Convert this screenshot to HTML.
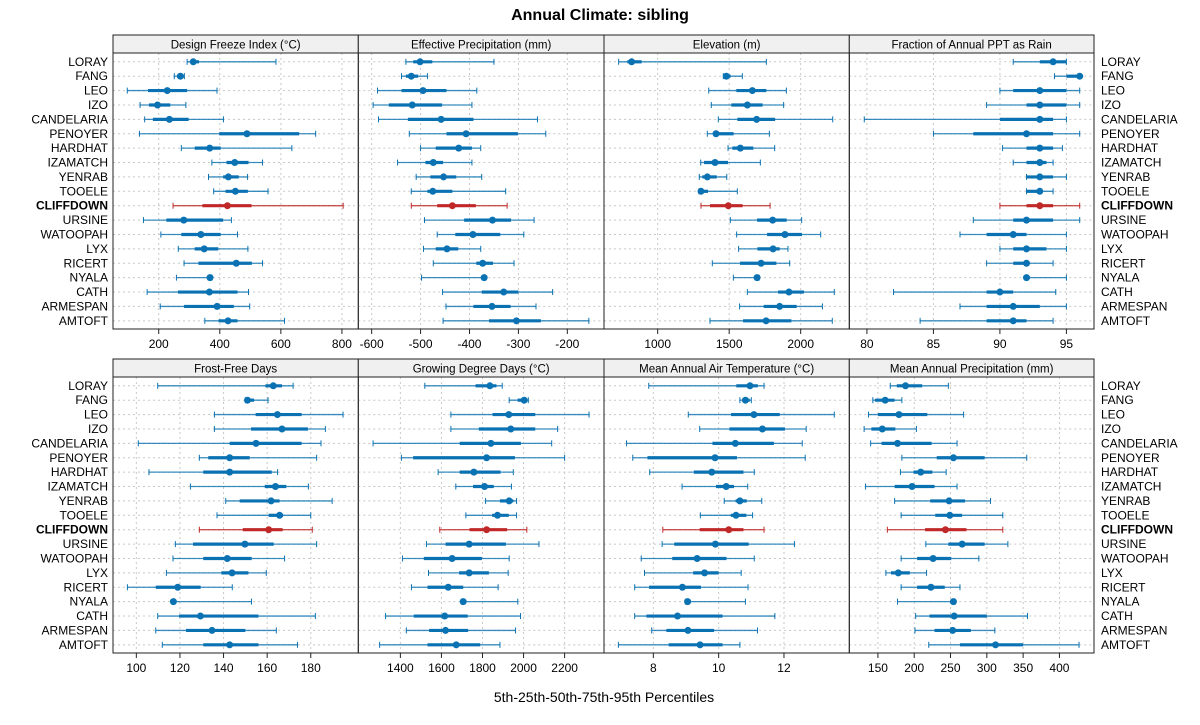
<!DOCTYPE html>
<html><head><meta charset="utf-8"><style>
body{margin:0;background:#fff;}
svg{display:block;font-family:"Liberation Sans",sans-serif;}
</style></head><body>
<svg id="c" width="1200" height="725"></svg>
<script>
const sites=["LORAY","FANG","LEO","IZO","CANDELARIA","PENOYER","HARDHAT","IZAMATCH","YENRAB","TOOELE","CLIFFDOWN","URSINE","WATOOPAH","LYX","RICERT","NYALA","CATH","ARMESPAN","AMTOFT"];
const highlight="CLIFFDOWN";
const panelTitles=["Design Freeze Index (°C)","Effective Precipitation (mm)","Elevation (m)","Fraction of Annual PPT as Rain","Frost-Free Days","Growing Degree Days (°C)","Mean Annual Air Temperature (°C)","Mean Annual Precipitation (mm)"];
const domains=[[50.3,853.6],[-627.3,-125],[624.7,2340],[78.675,97.075],[89.3,201.8],[1195.1,2391.8],[6.49,14.0],[110.6,447.6]];
const ticks=[[200,400,600,800],[-600,-500,-400,-300,-200],[1000,1500,2000],[80,85,90,95],[100,120,140,160,180],[1400,1600,1800,2000,2200],[8,10,12],[150,200,250,300,350,400]];
const dfi=[[293,304,313,332,584],[251,260,271,282,284],[97,165,228,293,391],[139,168,196,238,289],[154,181,235,298,412],[137,398,489,660,714],[274,318,367,403,636],[374,422,449,494,540],[363,411,428,462,491],[380,419,451,492,558],[247,343,425,504,804],[150,225,282,411,438],[207,274,338,403,458],[264,318,349,395,492],[283,330,454,505,540],[258,362,368,374,374],[162,263,366,458,494],[205,283,391,446,498],[351,396,427,458,612]];
const effp=[[-530,-515,-501,-476,-350],[-539,-530,-519,-505,-486],[-588,-539,-495,-447,-385],[-597,-565,-517,-456,-395],[-586,-526,-458,-392,-261],[-523,-447,-407,-301,-244],[-500,-469,-422,-395,-377],[-547,-490,-474,-454,-395],[-509,-480,-453,-427,-375],[-519,-486,-475,-435,-326],[-519,-466,-435,-387,-323],[-492,-411,-353,-315,-268],[-466,-429,-393,-337,-289],[-494,-469,-446,-423,-377],[-474,-386,-373,-352,-309],[-498,-373,-370,-367,-367],[-455,-375,-330,-300,-230],[-448,-392,-354,-316,-264],[-454,-360,-304,-254,-156]];
const elev=[[727,788,818,888,1760],[1459,1468,1480,1510,1592],[1357,1550,1662,1760,1900],[1375,1515,1627,1734,1881],[1424,1557,1692,1821,2224],[1347,1394,1408,1531,1781],[1492,1522,1578,1669,1818],[1301,1324,1401,1492,1718],[1291,1312,1347,1413,1483],[1289,1294,1303,1352,1557],[1303,1366,1494,1594,1786],[1508,1695,1804,1902,2007],[1552,1765,1890,2009,2140],[1566,1697,1807,1853,1911],[1382,1576,1723,1830,1923],[1529,1685,1695,1709,1709],[1627,1842,1918,2023,2235],[1573,1741,1853,1972,2152],[1366,1597,1758,1935,2221]];
const rain=[[91,93,94,95,95],[94.1,95,96,96,96],[90,91,93,95,96],[89,92,93,95,96],[79.8,90,93,94,95],[85,88,92,94,96],[90.2,92,93,94,94.7],[91,92,93,93.5,94],[92,92,93,94,95],[92,92,93,93,94],[90,92,93,94,96],[88,91,92,94,96],[87,89,91,92,95],[90,91,92,93.5,95],[89,91,92,92,94],[92,92,92,92,95],[82,89,90,91,94.2],[87,89,91,93,95],[84,89,91,92,94]];
const ffd=[[109.8,159.2,162.8,166.8,171.9],[150,150.5,151,154,160.4],[135.8,154.7,164.7,175.8,194.8],[135.8,152.6,166.8,178.7,186.7],[100.9,142.8,154.9,175.8,184.7],[128.9,133,142.8,152,182.7],[105.8,130.7,142.8,162.1,164.8],[124.8,158.9,163.8,168.8,178.9],[141,147.4,161.8,165.7,189.8],[137,160.7,165.7,167.3,180],[128.9,148.8,160.7,167.1,180.7],[117.9,126,149.8,163,182.7],[116.8,130.7,141.7,152.9,168],[113.8,139,143.9,151.4,159.6],[95.9,108.9,119,129.5,144],[117,117,117,117.5,152.8],[109.8,119.6,129.4,156,182.1],[108.9,122.8,134.7,150,164.2],[111.9,130.7,142.8,156,173.9]];
const gdd=[[1519,1766,1836,1868,1896],[1930,1971,2003,2015,2023],[1646,1849,1928,2057,2319],[1646,1782,1938,2057,2166],[1267,1689,1841,1987,2137],[1405,1462,1820,1958,2200],[1584,1689,1758,1888,1950],[1670,1754,1810,1855,1941],[1815,1885,1930,1950,1966],[1719,1847,1873,1928,1966],[1592,1737,1820,1920,2016],[1527,1620,1735,1914,2075],[1410,1514,1652,1797,1930],[1537,1686,1735,1831,1925],[1454,1532,1633,1706,1876],[1698,1698,1706,1714,1972],[1328,1465,1616,1728,1985],[1429,1540,1620,1730,1961],[1299,1532,1672,1789,1885]];
const maat=[[7.86,10.54,10.96,11.2,11.39],[10.65,10.72,10.82,10.95,11],[9.07,10.38,11.08,11.87,13.54],[9.42,10.33,11.34,12.03,12.68],[7.18,9.81,10.51,11.69,12.56],[7.37,7.82,9.89,10.56,12.65],[7.89,9.24,9.79,10.76,11.09],[8.88,9.92,10.23,10.47,10.89],[10.17,10.52,10.65,10.86,11.32],[9.44,10.37,10.53,10.85,11.04],[8.29,9.42,10.31,10.76,11.39],[8.27,8.64,9.9,10.92,12.32],[7.63,8.58,9.34,10.24,11.09],[7.73,9.22,9.57,10,10.69],[7.43,7.87,8.89,9.46,10.9],[8.98,8.98,9.05,9.05,10.82],[7.43,7.79,8.74,10.12,11.72],[7.95,8.4,9.06,9.86,11.19],[6.93,8.47,9.43,10.12,10.65]];
const map=[[167,176,188,211,247],[143,146,160,173,183],[137,150,179,218,268],[131,141,156,174,203],[140,155,177,224,259],[183,231,254,297,355],[181,199,209,225,244],[133,173,197,228,259],[173,222,248,270,305],[182,229,249,266,322],[163,215,243,272,322],[216,247,266,297,329],[182,204,226,251,289],[161,168,178,194,217],[182,204,223,242,263],[177,251,254,256,256],[202,221,255,300,356],[201,228,253,278,311],[220,263,312,350,427]];
const series=[dfi,effp,elev,rain,ffd,gdd,maat,map];

const NS="http://www.w3.org/2000/svg";
const svg=document.getElementById('c');
function mk(tag,attrs,parent,text){const e=document.createElementNS(NS,tag);for(const k in attrs)e.setAttribute(k,attrs[k]);if(text!==undefined)e.textContent=text;(parent||svg).appendChild(e);return e;}

const t=mk('text',{x:600,y:20,'text-anchor':'middle','font-size':16,'font-weight':'bold'},svg,'Annual Climate: sibling');


const xl=mk('text',{x:604,y:702,'text-anchor':'middle','font-size':14},svg,'5th-25th-50th-75th-95th Percentiles');



const colX=[113,358.3,604,849.3,1094];
const rows=[{strip:35,top:53,bottom:329},{strip:359,top:377,bottom:653}];
const rowStep=14.39;
function yPos(r,i){return rows[r].top+8.8+i*rowStep;}

for(let p=0;p<8;p++){
  const r=Math.floor(p/4),c=p%4;
  const x0=colX[c],x1=colX[c+1],R=rows[r];
  const d=domains[p];
  const sx=v=>x0+(v-d[0])/(d[1]-d[0])*(x1-x0);
  const g=mk('g',{});
  
  
  // strip
  const st=mk('rect',{x:x0,y:R.strip,width:x1-x0,height:R.top-R.strip,fill:'#f0f0f0',stroke:'#222','stroke-width':1},g);
  
  
  const stt=mk('text',{x:(x0+x1)/2,y:R.strip+13.5,'text-anchor':'middle','font-size':11.5},g,panelTitles[p]);
  
  
  // grid
  ticks[p].forEach(v=>{
    const gx=sx(v);
    const gl=mk('line',{x1:gx,x2:gx,y1:R.top,y2:R.bottom,stroke:'#c8c8c8','stroke-dasharray':'2,3','stroke-width':1},g);
    
    
    const tk=mk('line',{x1:gx,x2:gx,y1:R.bottom,y2:R.bottom+5,stroke:'#222'},g);
    
    
    const tl=mk('text',{x:gx,y:R.bottom+19,'text-anchor':'middle','font-size':12},g,String(v));
    
    
  });
  sites.forEach((s,i)=>{
    const y=yPos(r,i);
    const hl=mk('line',{x1:x0,x2:x1,y1:y,y2:y,stroke:'#c8c8c8','stroke-dasharray':'2,3'},g);
    
    
  });
  sites.forEach((s,i)=>{
    const v=series[p][i],y=yPos(r,i);
    const col=s===highlight?'#c02828':'#0a72b2';
    const mg=mk('g',{},g);
    
    
    mk('line',{x1:sx(v[0]),x2:sx(v[4]),y1:y,y2:y,stroke:col,'stroke-width':1.3,'stroke-opacity':0.8},mg);
    mk('line',{x1:sx(v[0]),x2:sx(v[0]),y1:y-3,y2:y+3,stroke:col,'stroke-width':1},mg);
    mk('line',{x1:sx(v[4]),x2:sx(v[4]),y1:y-3,y2:y+3,stroke:col,'stroke-width':1},mg);
    mk('line',{x1:sx(v[1]),x2:sx(v[3]),y1:y,y2:y,stroke:col,'stroke-width':3.2},mg);
    mk('circle',{cx:sx(v[2]),cy:y,r:3.5,fill:col},mg);
  });
  const fr=mk('rect',{x:x0,y:R.top,width:x1-x0,height:R.bottom-R.top,fill:'none',stroke:'#222','stroke-width':1},g);
  
  
}
for(let r=0;r<2;r++){
  sites.forEach((s,i)=>{
    const y=yPos(r,i)+4;
    const bold=s===highlight?'bold':'normal';
    const l=mk('text',{x:108,y:y,'text-anchor':'end','font-size':12,'font-weight':bold},svg,s);
    
    
    const rl=mk('text',{x:1101,y:y,'text-anchor':'start','font-size':12,'font-weight':bold},svg,s);
    
    
  });
}
</script>
</body></html>
